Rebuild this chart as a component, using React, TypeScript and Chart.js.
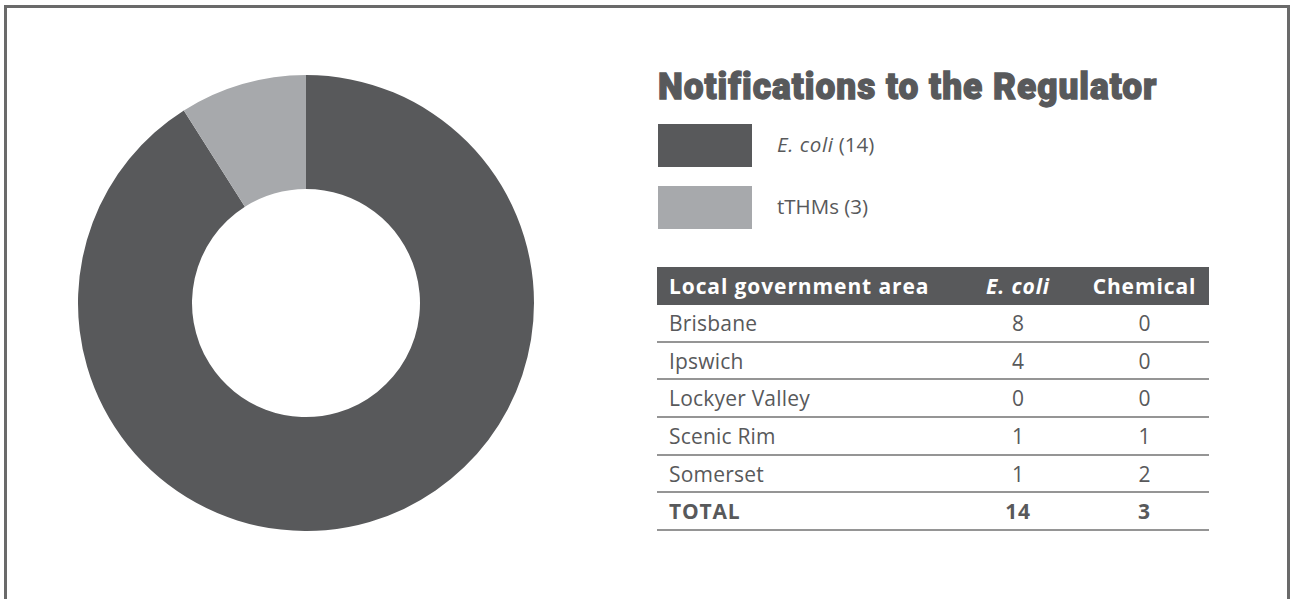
import React, { useEffect, useLayoutEffect, useRef, useState } from 'react';
import { Chart, registerables } from 'chart.js';

Chart.register(...registerables);

// ---- data ----
const sliceLabels = ['E. coli', 'tTHMs'];
const sliceValues = [91, 9]; // shares as drawn in the ring
const sliceColors = ['#58595b', '#a7a9ac'];
const legendCounts = [14, 3];

const tableHeaders = ['Local government area', 'E. coli', 'Chemical'];
const areas = ['Brisbane', 'Ipswich', 'Lockyer Valley', 'Scenic Rim', 'Somerset'];
const ecoliCounts = [8, 4, 0, 1, 1];
const chemicalCounts = [0, 0, 0, 1, 2];
const totalLabel = 'TOTAL';
const totalCounts = [14, 3];

const TITLE = 'Notifications to the Regulator';
const TEXT_COLOR = '#58595b';
const BODY_FONT = '"Open Sans", "Noto Sans", sans-serif';

function Doughnut() {
  const ref = useRef<HTMLCanvasElement | null>(null);
  useEffect(() => {
    if (!ref.current) return;
    const chart = new Chart(ref.current, {
      type: 'doughnut',
      data: {
        labels: sliceLabels,
        datasets: [
          {
            data: sliceValues,
            backgroundColor: sliceColors,
            borderWidth: 0,
            hoverOffset: 0,
          },
        ],
      },
      options: {
        animation: false,
        responsive: true,
        maintainAspectRatio: false,
        cutout: '50%',
        layout: { padding: 0 },
        plugins: {
          legend: { display: false },
          tooltip: { enabled: false },
          title: { display: false },
        },
      },
    });
    return () => chart.destroy();
  }, []);
  return <canvas ref={ref} />;
}

function Title() {
  const ref = useRef<HTMLSpanElement | null>(null);
  const [scale, setScale] = useState(1);
  useLayoutEffect(() => {
    const measure = () => {
      if (!ref.current) return;
      const w = ref.current.offsetWidth;
      if (w > 0) setScale(499 / w);
    };
    measure();
    if ((document as any).fonts && (document as any).fonts.ready) {
      (document as any).fonts.ready.then(measure);
    }
  }, []);
  return (
    <span
      ref={ref}
      style={{
        position: 'absolute',
        left: 658,
        top: 68,
        fontFamily: 'Roboto, "DejaVu Sans", sans-serif',
        fontWeight: 900,
        fontSize: 37,
        lineHeight: '37px',
        color: TEXT_COLOR,
        whiteSpace: 'nowrap',
        transform: `scaleX(${scale})`,
        transformOrigin: 'left top',
        letterSpacing: '1px',
        WebkitTextStroke: `1.3px ${TEXT_COLOR}`,
      }}
    >
      {TITLE}
    </span>
  );
}

function LegendItem({ top, color, children }: { top: number; color: string; children: React.ReactNode }) {
  return (
    <div
      style={{
        position: 'absolute',
        left: 658,
        top,
        height: 43,
        display: 'flex',
        alignItems: 'center',
      }}
    >
      <div style={{ width: 94, height: 43, background: color }} />
      <div
        style={{
          marginLeft: 25,
          marginTop: -4,
          fontFamily: BODY_FONT,
          fontSize: 20.5,
          color: TEXT_COLOR,
          whiteSpace: 'nowrap',
        }}
      >
        {children}
      </div>
    </div>
  );
}

const colW = [299, 124, 129];

function Row({
  cells,
  bold,
  height,
}: {
  cells: React.ReactNode[];
  bold?: boolean;
  height: number;
}) {
  return (
    <div
      style={{
        display: 'flex',
        height,
        boxSizing: 'border-box',
        borderBottom: '2px solid #959595',
        alignItems: 'center',
        fontFamily: BODY_FONT,
        fontSize: 21,
        fontWeight: bold ? 700 : 400,
        letterSpacing: bold ? '0.8px' : '0.2px',
        color: TEXT_COLOR,
      }}
    >
      {cells.map((c, i) => (
        <div
          key={i}
          style={{
            width: colW[i],
            paddingLeft: i === 0 ? 12 : 0,
            boxSizing: 'border-box',
            textAlign: i === 0 ? 'left' : 'center',
            whiteSpace: 'nowrap',
          }}
        >
          {c}
        </div>
      ))}
    </div>
  );
}

export default function App() {
  return (
    <div
      style={{
        position: 'absolute',
        left: 0,
        top: 0,
        width: 1290,
        height: 599,
        overflow: 'hidden',
        background: '#ffffff',
      }}
    >
      <div
        style={{
          position: 'absolute',
          left: 4,
          top: 5,
          width: 1286,
          height: 700,
          boxSizing: 'border-box',
          border: '3px solid #6a6a6a',
        }}
      />
      <div style={{ position: 'absolute', left: 78, top: 75, width: 456, height: 456 }}>
        <Doughnut />
      </div>

      <Title />

      <LegendItem top={124} color={sliceColors[0]}>
        <i style={{ letterSpacing: '0.6px' }}>{sliceLabels[0]}</i> ({legendCounts[0]})
      </LegendItem>
      <LegendItem top={186} color={sliceColors[1]}>
        {sliceLabels[1]} ({legendCounts[1]})
      </LegendItem>

      <div style={{ position: 'absolute', left: 657, top: 267, width: 552 }}>
        <div
          style={{
            display: 'flex',
            height: 38,
            alignItems: 'center',
            background: '#58595b',
            color: '#ffffff',
            fontFamily: BODY_FONT,
            fontSize: 21,
            fontWeight: 700,
            letterSpacing: '0.9px',
          }}
        >
          {tableHeaders.map((h, i) => (
            <div
              key={i}
              style={{
                width: colW[i],
                paddingLeft: i === 0 ? 12 : 0,
                boxSizing: 'border-box',
                textAlign: i === 0 ? 'left' : 'center',
                fontStyle: i === 1 ? 'italic' : 'normal',
                whiteSpace: 'nowrap',
              }}
            >
              {h}
            </div>
          ))}
        </div>
        {areas.map((a, i) => (
          <Row key={a} height={37.7} cells={[a, ecoliCounts[i], chemicalCounts[i]]} />
        ))}
        <Row height={37.7} bold cells={[totalLabel, totalCounts[0], totalCounts[1]]} />
      </div>
    </div>
  );
}
